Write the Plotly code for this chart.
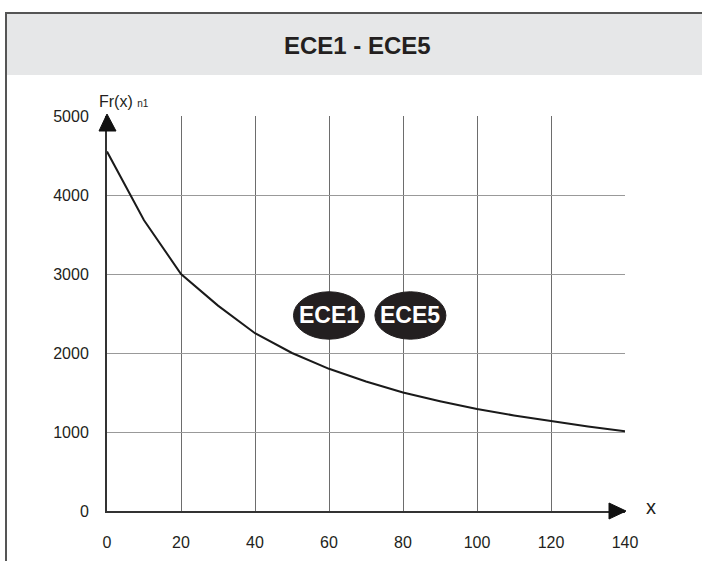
import plotly.graph_objects as go

# ---- data ----
x_vals = [0, 10, 20, 30, 40, 50, 60, 70, 80, 90, 100, 110, 120, 130, 140]
fr_vals = [4550, 3680, 3000, 2600, 2250, 2000, 1800, 1640, 1500, 1390, 1290, 1210, 1140, 1070, 1010]
x_ticks = [0, 20, 40, 60, 80, 100, 120, 140]
y_ticks = [0, 1000, 2000, 3000, 4000, 5000]
badge_labels = ["ECE1", "ECE5"]
badge_x = [60, 82]
badge_y = 2475
title_text = "ECE1 - ECE5"

W, H = 702, 561
PLOT_L, PLOT_R, PLOT_T, PLOT_B = 107, 625, 116, 511  # pixel positions of plot area
L, T = PLOT_L, PLOT_T
R, B = W - PLOT_R, H - PLOT_B
PW, PH = PLOT_R - PLOT_L, PLOT_B - PLOT_T


def px(xp):
    return (xp - PLOT_L) / PW


def py(yp):
    return (PLOT_B - yp) / PH


FONT = "Liberation Sans, Arial, sans-serif"

fig = go.Figure()
fig.add_trace(go.Scatter(x=x_vals, y=fr_vals, mode="lines",
                         line=dict(color="#1a1a1a", width=2), showlegend=False,
                         hoverinfo="x+y"))

shapes = []
# header band
shapes.append(dict(type="rect", xref="paper", yref="paper", x0=px(7), x1=px(703), y0=py(75), y1=py(14),
                   fillcolor="#e6e7e8", line=dict(width=0), layer="below"))
# frame lines
shapes.append(dict(type="line", xref="paper", yref="paper", x0=px(5), x1=px(703), y0=py(13), y1=py(13),
                   line=dict(color="#555555", width=2)))
shapes.append(dict(type="line", xref="paper", yref="paper", x0=px(6), x1=px(6), y0=py(12), y1=py(562),
                   line=dict(color="#555555", width=2)))
# axis arrows
shapes.append(dict(type="path", xref="paper", yref="paper",
                   path=f"M {px(107)} {py(114)} L {px(99)} {py(131)} L {px(116)} {py(131)} Z",
                   fillcolor="#111111", line=dict(color="#111111", width=1)))
shapes.append(dict(type="path", xref="paper", yref="paper",
                   path=f"M {px(626)} {py(511)} L {px(609)} {py(503)} L {px(609)} {py(519)} Z",
                   fillcolor="#111111", line=dict(color="#111111", width=1)))
# badges
for bx in badge_x:
    shapes.append(dict(type="circle", xref="x", yref="y", x0=bx - 9.6, x1=bx + 9.6,
                       y0=badge_y - 300, y1=badge_y + 300,
                       fillcolor="#231f20", line=dict(color="#231f20", width=1)))

annotations = [
    dict(text=f"<b>{title_text}</b>", xref="paper", yref="paper", x=px(357), y=py(46),
         showarrow=False, font=dict(family=FONT, size=24, color="#231f20"), xanchor="center", yanchor="middle"),
    dict(text="Fr(x) <span style='font-size:10px'>n1</span>", xref="paper", yref="paper", x=px(97), y=py(101),
         showarrow=False, font=dict(family=FONT, size=16, color="#231f20"), xanchor="left", yanchor="middle"),
    dict(text="x", xref="paper", yref="paper", x=px(651), y=py(507),
         showarrow=False, font=dict(family=FONT, size=20, color="#231f20"), xanchor="center", yanchor="middle"),
]
for lab, bx in zip(badge_labels, badge_x):
    annotations.append(dict(text=f"<b>{lab}</b>", xref="x", yref="y", x=bx, y=badge_y,
                            showarrow=False, font=dict(family=FONT, size=23, color="white"),
                            xanchor="center", yanchor="middle"))

fig.update_layout(
    width=W, height=H, autosize=False,
    margin=dict(l=L, r=R, t=T, b=B, pad=0, autoexpand=False),
    paper_bgcolor="white", plot_bgcolor="white",
    shapes=shapes, annotations=annotations,
    showlegend=False,
    xaxis=dict(range=[0, 140], tickvals=x_ticks, ticktext=[str(v) for v in x_ticks],
               showgrid=True, gridcolor="#6d6d6d", gridwidth=1, zeroline=False,
               showline=True, linecolor="#333333", linewidth=2, automargin=False,
               ticks="", ticklabelstandoff=16,
               tickfont=dict(family=FONT, size=16, color="#231f20"), fixedrange=True),
    yaxis=dict(range=[0, 5000], tickvals=y_ticks, ticktext=[str(v) for v in y_ticks],
               showgrid=True, gridcolor="#999999", gridwidth=1, zeroline=False,
               showline=True, linecolor="#333333", linewidth=2, automargin=False,
               ticks="", ticklabelstandoff=13,
               tickfont=dict(family=FONT, size=16, color="#231f20"), fixedrange=True),
)

fig.write_html(
    "out.html",
    config={"displayModeBar": False},
    post_script="document.body.style.margin='0';document.body.style.overflow='hidden';"
                "document.documentElement.style.overflow='hidden';",
)
